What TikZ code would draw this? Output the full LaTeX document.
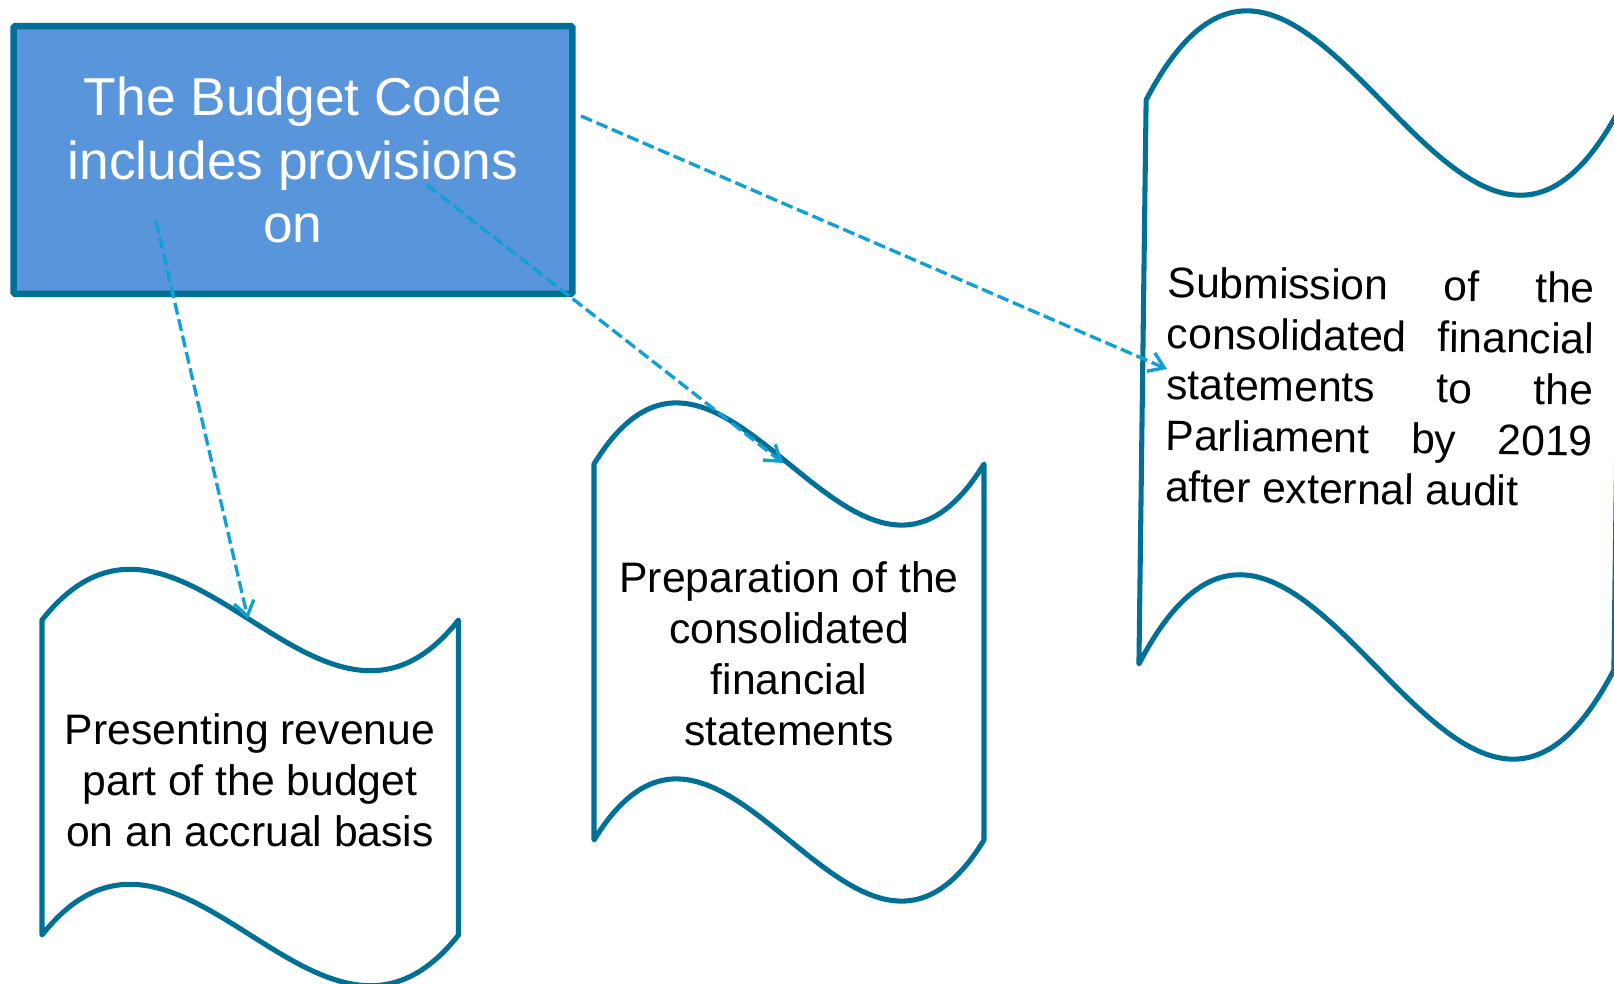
\documentclass[tikz,border=0pt]{standalone}
\usepackage{fontspec}
\setmainfont{Liberation Sans}
\usetikzlibrary{arrows.meta}
\definecolor{tealline}{RGB}{0,112,150}
\definecolor{boxblue}{RGB}{88,149,219}
\definecolor{arrowblue}{RGB}{16,160,214}
\tikzset{
  codebox/.style={draw=tealline, fill=boxblue, line width=4.8pt, rounded corners=1pt,
    inner sep=0pt, minimum width=419pt, minimum height=200.8pt, text=white,
    align=center, font=\fontsize{40}{47.3}\selectfont},
  waveline/.style={draw=tealline, line width=3.8pt, line join=round, line cap=round},
  wavetext/.style={align=center, font=\fontsize{32}{38.3}\selectfont, inner sep=0pt},
  conn/.style={draw=arrowblue, line width=2.5pt, dash pattern=on 9pt off 3.6pt,
    -{Straight Barb[length=11pt,width=15pt]}},
}
% #1 x0, #2 y0 (top-left corner), #3 width, #4 corner height, #5 wave size
\newcommand\wavedraw[5]{%
  \draw[waveline] (#1,#2)
    .. controls ({#1+#3/3},{#2-10/3*#5}) and ({#1+2*#3/3},{#2+10/3*#5}) .. ({#1+#3},#2)
    -- ({#1+#3},{#2+#4})
    .. controls ({#1+2*#3/3},{#2+#4+10/3*#5}) and ({#1+#3/3},{#2+#4-10/3*#5}) .. (#1,{#2+#4})
    -- cycle;}
\begin{document}
\begin{tikzpicture}[x=0.75pt,y=-0.75pt]
\useasboundingbox (0,0) rectangle (1614,984);

\node[codebox] (code) at (293,160) {The Budget Code\\includes provisions\\on};

\wavedraw{42}{620}{416.5}{315}{52.7}
\node[wavetext] (rev) at (250,780) {Presenting revenue\\part of the budget\\on an accrual basis};

\wavedraw{594}{464}{390}{376}{63.5}
\node[wavetext] (prep) at (789,654) {Preparation of the\\consolidated\\financial\\statements};

\begin{scope}[rotate around={-0.73:(1380,385)}]
  \wavedraw{1142.5}{103}{475}{564}{94}
\end{scope}
\node[wavetext, text width=320.25pt, align=justify, rotate=-0.73] (sub) at (1380,387)
  {Submission of the\linebreak consolidated financial\linebreak statements to the\linebreak Parliament by 2019\linebreak after external audit};

\coordinate (s1) at (156,221); \coordinate (e1) at (248,619);
\coordinate (s2) at (427,185); \coordinate (e2) at (783,463);
\coordinate (s3) at (581,116); \coordinate (e3) at (1167,369);
\draw[conn] (s1) -- (e1);
\draw[conn] (s2) -- (e2);
\draw[conn] (s3) -- (e3);
\end{tikzpicture}
\end{document}
